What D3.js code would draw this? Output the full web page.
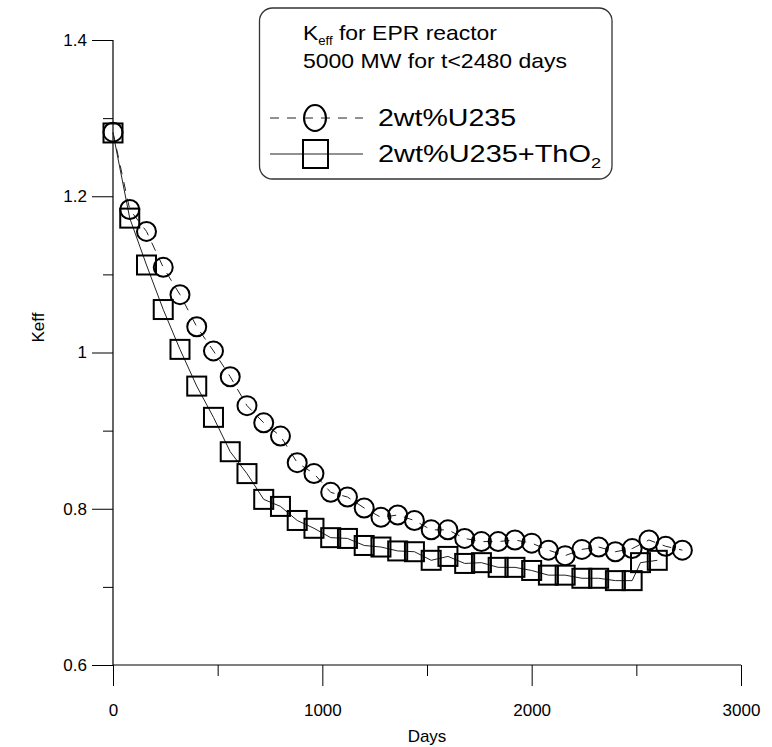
<!DOCTYPE html>
<html>
<head>
<meta charset="utf-8">
<script src="https://cdn.jsdelivr.net/npm/d3@7"></script>
<style>
  html, body { margin: 0; padding: 0; background: #fff; }
  svg { display: block; font-family: Arial, "Liberation Sans", Helvetica, sans-serif; }
</style>
</head>
<body>
<svg id="chart" width="772" height="747"></svg>
<script>
// ---- data ----
const daysU = [0, 80, 160, 240, 320, 400, 480, 560, 640, 720, 800, 880, 960, 1040, 1120, 1200, 1280, 1360, 1440, 1520, 1600, 1680, 1760, 1840, 1920, 2000, 2080, 2160, 2240, 2320, 2400, 2480, 2560, 2640, 2720];
const keffU = [1.282, 1.183, 1.155, 1.109, 1.074, 1.033, 1.002, 0.969, 0.932, 0.910, 0.893, 0.859, 0.845, 0.821, 0.815, 0.801, 0.789, 0.792, 0.785, 0.773, 0.773, 0.762, 0.758, 0.758, 0.760, 0.756, 0.747, 0.740, 0.748, 0.751, 0.745, 0.749, 0.760, 0.752, 0.747];
const daysTh = [0, 80, 160, 240, 320, 400, 480, 560, 640, 720, 800, 880, 960, 1040, 1120, 1200, 1280, 1360, 1440, 1520, 1600, 1680, 1760, 1840, 1920, 2000, 2080, 2160, 2240, 2320, 2400, 2480, 2520, 2600];
const keffTh = [1.281, 1.172, 1.112, 1.055, 1.004, 0.957, 0.917, 0.873, 0.845, 0.812, 0.803, 0.785, 0.775, 0.763, 0.762, 0.753, 0.751, 0.746, 0.745, 0.734, 0.739, 0.730, 0.731, 0.725, 0.725, 0.721, 0.715, 0.715, 0.711, 0.711, 0.708, 0.708, 0.731, 0.734];
const xMajorTicks = [0, 1000, 2000, 3000];
const xMinorTicks = [500, 1500, 2500];
const yMajorTicks = [0.6, 0.8, 1.0, 1.2, 1.4];
const yMinorTicks = [0.7, 0.9, 1.1, 1.3];
const yTickLabels = ["0.6", "0.8", "1", "1.2", "1.4"];
const seriesNames = ["2wt%U235", "2wt%U235+ThO"];
const legendTitle = ["for EPR reactor", "5000 MW for t<2480 days"];

// ---- layout ----
const svg = d3.select("#chart");
const x = d3.scaleLinear().domain([0, 3000]).range([113, 741]);
const y = d3.scaleLinear().domain([0.6, 1.4]).range([665, 40]);

const axisColor = "#000";

// y axis
const gy = svg.append("g").attr("transform", `translate(${x(0)},0)`);
gy.call(d3.axisLeft(y).tickValues(yMajorTicks).tickSize(21).tickSizeOuter(0)
  .tickFormat((d, i) => yTickLabels[i]).tickPadding(5));
gy.append("g").call(d3.axisLeft(y).tickValues(yMinorTicks).tickSize(10).tickFormat(""));
gy.selectAll(".domain").remove();
gy.selectAll("line").attr("stroke", axisColor).attr("stroke-width", 1);
gy.selectAll("text").attr("font-size", 17).attr("fill", "#000")
  .attr("font-family", "Arial, 'Liberation Sans', sans-serif");

// x axis
const gx = svg.append("g").attr("transform", `translate(0,${y(0.6)})`);
gx.call(d3.axisBottom(x).tickValues(xMajorTicks).tickSize(21).tickSizeOuter(0)
  .tickFormat(d3.format("d")).tickPadding(18));
gx.append("g").call(d3.axisBottom(x).tickValues(xMinorTicks).tickSize(11).tickFormat(""));
gx.selectAll(".domain").remove();
gx.selectAll("line").attr("stroke", axisColor).attr("stroke-width", 1);
gx.selectAll("text").attr("font-size", 17).attr("fill", "#000")
  .attr("font-family", "Arial, 'Liberation Sans', sans-serif");

// axis lines
svg.append("line").attr("x1", x(0)).attr("x2", x(0)).attr("y1", y(1.4)).attr("y2", y(0.6))
  .attr("stroke", axisColor).attr("stroke-width", 1.2);
svg.append("line").attr("x1", x(0)).attr("x2", x(3000)).attr("y1", y(0.6)).attr("y2", y(0.6))
  .attr("stroke", axisColor).attr("stroke-width", 1.2);

// axis titles
svg.append("text").attr("x", (x(0) + x(3000)) / 2).attr("y", 742)
  .attr("text-anchor", "middle").attr("font-size", 17).text("Days");
svg.append("text").attr("transform", `translate(44,${y(1.0) - 25}) rotate(-90)`)
  .attr("text-anchor", "middle").attr("font-size", 17).text("Keff");

// lines
const line = d3.line().x(d => x(d[0])).y(d => y(d[1]));
const ptsU = daysU.map((d, i) => [d, keffU[i]]);
const ptsTh = daysTh.map((d, i) => [d, keffTh[i]]);

svg.append("path").attr("d", line(ptsU)).attr("fill", "none")
  .attr("stroke", "#222").attr("stroke-width", 1).attr("stroke-dasharray", "9,8");
svg.append("path").attr("d", line(ptsTh)).attr("fill", "none")
  .attr("stroke", "#222").attr("stroke-width", 1);

// markers
svg.append("g").selectAll("rect").data(ptsTh).join("rect")
  .attr("x", d => x(d[0]) - 9.5).attr("y", d => y(d[1]) - 9.5)
  .attr("width", 19).attr("height", 19)
  .attr("fill", "none").attr("stroke", "#000").attr("stroke-width", 2);
svg.append("g").selectAll("circle").data(ptsU).join("circle")
  .attr("cx", d => x(d[0])).attr("cy", d => y(d[1])).attr("r", 9.5)
  .attr("fill", "none").attr("stroke", "#000").attr("stroke-width", 2);

// legend
const lg = svg.append("g");
lg.append("rect").attr("x", 259.5).attr("y", 8).attr("width", 352.5).attr("height", 171)
  .attr("rx", 13).attr("ry", 13).attr("fill", "#fff").attr("stroke", "#333").attr("stroke-width", 1.3);

const t1 = lg.append("text").attr("x", 303).attr("y", 40).attr("font-size", 21)
  .attr("textLength", 194).attr("lengthAdjust", "spacingAndGlyphs");
t1.append("tspan").text("K");
t1.append("tspan").attr("font-size", 12).attr("dy", 5).text("eff");
t1.append("tspan").attr("dy", -5).text(" " + legendTitle[0]);
lg.append("text").attr("x", 303).attr("y", 68).attr("font-size", 21)
  .attr("textLength", 264).attr("lengthAdjust", "spacingAndGlyphs").text(legendTitle[1]);

// row 1
lg.append("line").attr("x1", 270).attr("x2", 363).attr("y1", 118).attr("y2", 118)
  .attr("stroke", "#222").attr("stroke-width", 1).attr("stroke-dasharray", "9,8");
lg.append("ellipse").attr("cx", 315).attr("cy", 118).attr("rx", 11).attr("ry", 13)
  .attr("fill", "none").attr("stroke", "#000").attr("stroke-width", 2);
lg.append("text").attr("x", 378).attr("y", 126).attr("font-size", 24)
  .attr("textLength", 138).attr("lengthAdjust", "spacingAndGlyphs").text(seriesNames[0]);

// row 2
lg.append("line").attr("x1", 270).attr("x2", 363).attr("y1", 154).attr("y2", 154)
  .attr("stroke", "#222").attr("stroke-width", 1);
lg.append("rect").attr("x", 303).attr("y", 140).attr("width", 25).attr("height", 28)
  .attr("fill", "none").attr("stroke", "#000").attr("stroke-width", 2);
const t4 = lg.append("text").attr("x", 378).attr("y", 162).attr("font-size", 24)
  .attr("textLength", 223).attr("lengthAdjust", "spacingAndGlyphs");
t4.append("tspan").text(seriesNames[1]);
t4.append("tspan").attr("font-size", 15).attr("dy", 6).text("2");
</script>
</body>
</html>
